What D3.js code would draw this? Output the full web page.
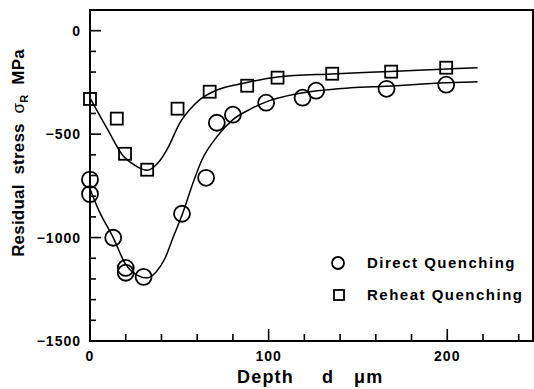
<!DOCTYPE html>
<html lang="en">
<head>
<meta charset="UTF-8">
<title>Residual stress vs depth</title>
<script src="https://d3js.org/d3.v7.min.js"></script>
<style>
    body, html { margin: 0; padding: 0; background: #fff; }
    svg { display: block; font-family: "Liberation Sans", Arial, sans-serif; font-weight: bold; }
    svg text { white-space: pre; }
</style>
</head>
<body>
<svg id="svg" width="534" height="389"></svg>
<script>
    // measured points, depth in um, stress in MPa
    const directPoints = [
        [0, -720], [0, -790], [13, -1001], [20, -1147], [20, -1170], [30, -1190],
        [51.5, -885], [65, -711], [71, -445], [80, -406], [98.6, -348],
        [119, -324], [126.6, -290], [166, -281], [199.4, -261]
    ];
    const reheatPoints = [
        [0, -330], [15, -425], [19.6, -595], [32, -672], [49, -377], [67, -295],
        [88, -266], [105, -227], [135.6, -208], [168.6, -198], [199.4, -179]
    ];
    // fitted curves
    const directCurve = [
        [0, -765], [5, -870], [13, -1000], [20, -1130], [26, -1180], [32, -1195],
        [37, -1166], [42, -1100], [46.5, -1000], [52, -880], [57.7, -735],
        [62.7, -624], [71, -513], [80, -430], [90, -378], [99, -343], [116, -305],
        [146, -276], [166, -268], [199, -252], [217, -247]
    ];
    const reheatCurve = [
        [0, -325], [10, -480], [18.5, -605], [25, -650], [32, -675], [38, -640],
        [44, -560], [50, -450], [56, -380], [62, -330], [71, -287], [86, -254],
        [105, -224], [135, -209], [168, -197], [200, -185], [217, -179]
    ];
    const xMajor = [0, 100, 200];
    const xMinor = [20, 40, 60, 80, 120, 140, 160, 180, 220, 240];
    const yMajor = [0, -500, -1000, -1500];
    const yMinor = [-100, -200, -300, -400, -600, -700, -800, -900, -1100, -1200, -1300, -1400];
    const legendItems = ["Direct Quenching", "Reheat Quenching"];

    const plotLeft = 90, plotRight = 533, plotTop = 10, plotBottom = 341;
    const svg = d3.select('#svg');

    const x = d3.scaleLinear().domain([0, 248]).range([plotLeft, plotRight]);
    const y = d3.scaleLinear().domain([-1500, 100]).range([plotBottom, plotTop]);

    // frame
    svg.append('path')
        .attr('d', `M${plotLeft},${plotBottom}H${plotRight}V${plotTop}H${plotLeft}Z`)
        .attr('fill', 'none').attr('stroke', '#000').attr('stroke-width', 2);

    // inward ticks
    const tickG = svg.append('g').attr('stroke', '#000').attr('stroke-width', 1.6);
    tickG.append('g').selectAll('line').data(xMajor.filter(d => d > 0)).join('line')
        .attr('x1', d => x(d)).attr('x2', d => x(d)).attr('y1', plotBottom).attr('y2', plotBottom - 12);
    tickG.append('g').selectAll('line').data(xMinor).join('line')
        .attr('x1', d => x(d)).attr('x2', d => x(d)).attr('y1', plotBottom).attr('y2', plotBottom - 7);
    tickG.append('g').selectAll('line').data(yMajor.filter(d => d > -1500)).join('line')
        .attr('x1', plotLeft).attr('x2', plotLeft + 11).attr('y1', d => y(d)).attr('y2', d => y(d));
    tickG.append('g').selectAll('line').data(yMinor).join('line')
        .attr('x1', plotLeft).attr('x2', plotLeft + 6).attr('y1', d => y(d)).attr('y2', d => y(d));

    // tick labels
    svg.append('g').selectAll('text').data(yMajor).join('text')
        .attr('x', 81).attr('y', d => y(d) + 5)
        .attr('text-anchor', 'end').attr('font-size', 14).attr('letter-spacing', '1px')
        .text(d => d === 0 ? '0' : '\u2212' + Math.abs(d));
    svg.append('g').selectAll('text').data(xMajor).join('text')
        .attr('x', d => x(d)).attr('y', 361)
        .attr('text-anchor', 'middle').attr('font-size', 14).attr('letter-spacing', '1px')
        .text(d => d);

    // axis titles
    const xt = svg.append('g').attr('font-size', 18).attr('letter-spacing', '1.2px');
    xt.append('text').attr('x', 237).attr('y', 383).text('Depth');
    xt.append('text').attr('x', 322).attr('y', 383).text('d');
    xt.append('text').attr('x', 354).attr('y', 383).text('\u03bcm');

    const yt = svg.append('text')
        .attr('transform', 'translate(24,153) rotate(-90)')
        .attr('text-anchor', 'middle').attr('font-size', 17).attr('letter-spacing', '0.2px');
    yt.append('tspan').text('Residual  stress  ');
    yt.append('tspan').attr('font-weight', 'normal').text('\u03c3');
    yt.append('tspan').attr('font-size', 11).attr('dy', 4).text('R');
    yt.append('tspan').attr('dy', -4).text('  MPa');

    // fitted curves
    const line = d3.line().x(d => x(d[0])).y(d => y(d[1])).curve(d3.curveMonotoneX);
    svg.append('g').selectAll('path').data([directCurve, reheatCurve]).join('path')
        .attr('d', line).attr('fill', 'none').attr('stroke', '#000').attr('stroke-width', 1.5);

    // markers
    svg.append('g').selectAll('circle').data(directPoints).join('circle')
        .attr('cx', d => x(d[0])).attr('cy', d => y(d[1])).attr('r', 8)
        .attr('fill', 'none').attr('stroke', '#000').attr('stroke-width', 1.8);
    const sq = 12;
    svg.append('g').selectAll('rect').data(reheatPoints).join('rect')
        .attr('x', d => x(d[0]) - sq / 2).attr('y', d => y(d[1]) - sq / 2)
        .attr('width', sq).attr('height', sq)
        .attr('fill', 'none').attr('stroke', '#000').attr('stroke-width', 1.8);

    // legend
    const lg = svg.append('g');
    lg.append('circle').attr('cx', 338).attr('cy', 263).attr('r', 6)
        .attr('fill', 'none').attr('stroke', '#000').attr('stroke-width', 1.8);
    lg.append('rect').attr('x', 334).attr('y', 290).attr('width', 10).attr('height', 10)
        .attr('fill', 'none').attr('stroke', '#000').attr('stroke-width', 1.8);
    lg.selectAll('text').data(legendItems).join('text')
        .attr('x', 367).attr('y', (d, i) => 268 + i * 32)
        .attr('font-size', 15).attr('letter-spacing', '1.5px')
        .text(d => d);
</script>
</body>
</html>
